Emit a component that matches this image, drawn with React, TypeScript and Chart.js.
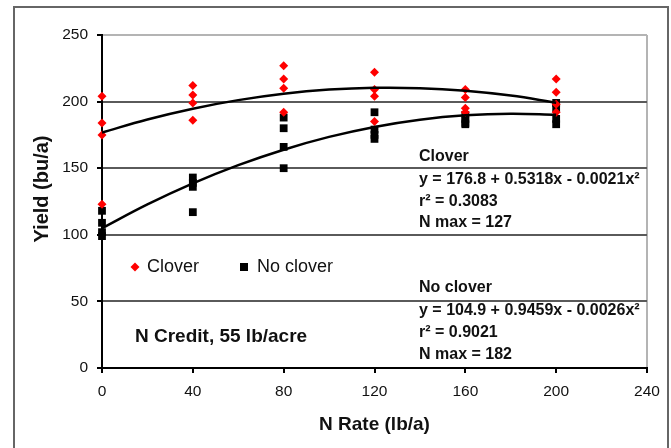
import React, { useEffect, useRef } from 'react';
import { Chart, registerables } from 'chart.js';

Chart.register(...registerables);

// ---- data ----
const nRates = [0, 40, 80, 120, 160, 200];
const cloverRep1 = [204, 212, 227, 222, 209, 217];
const cloverRep2 = [184, 205, 217, 209, 203, 207];
const cloverRep3 = [175, 199, 210, 204, 195, 198];
const cloverRep4 = [123, 186, 192, 185, 192, 192];
const noCloverRep1 = [118, 143, 188, 192, 190, 199];
const noCloverRep2 = [109, 139, 180, 179, 187, 195];
const noCloverRep3 = [102, 136, 166, 175, 184, 187];
const noCloverRep4 = [99, 117, 150, 172, 183, 183];

const trendRates = [0, 20, 40, 60, 80, 100, 120, 140, 160, 180, 200];
const cloverTrend = [176.8, 186.6, 194.7, 201.1, 205.9, 209.0, 210.4, 210.1, 208.1, 204.5, 199.2];
const noCloverTrend = [104.9, 122.8, 138.6, 152.3, 163.9, 173.5, 181.0, 186.4, 189.7, 190.9, 190.1];

const xTicks = [0, 40, 80, 120, 160, 200, 240];
const yTicks = [0, 50, 100, 150, 200, 250];

const seriesNames = ['Clover', 'No clover'];
const cloverNotes = ['Clover', 'y = 176.8 + 0.5318x - 0.0021x²', 'r² = 0.3083', 'N max = 127'];
const noCloverNotes = ['No clover', 'y = 104.9 + 0.9459x - 0.0026x²', 'r² = 0.9021', 'N max = 182'];
const creditNote = 'N Credit, 55 lb/acre';
const xTitle = 'N Rate (lb/a)';
const yTitle = 'Yield (bu/a)';

const FONT = "'Liberation Sans', Arial, sans-serif";

function points(xs: number[], ys: number[]) {
  return xs.map((x, i) => ({ x, y: ys[i] }));
}

const textPlugin = {
  id: 'textPlugin',
  afterDraw(chart: any) {
    const ctx = chart.ctx as CanvasRenderingContext2D;
    const { left, right } = chart.chartArea;
    ctx.save();
    ctx.fillStyle = '#111';
    // axis titles
    ctx.font = `bold 19px ${FONT}`;
    ctx.textAlign = 'center';
    ctx.textBaseline = 'middle';
    ctx.fillText(xTitle, (left + right) / 2, 425);
    ctx.save();
    ctx.translate(42, 189);
    ctx.rotate(-Math.PI / 2);
    ctx.font = `bold 20px ${FONT}`;
    ctx.fillText(yTitle, 0, 0);
    ctx.restore();

    // legend
    ctx.textAlign = 'left';
    ctx.font = `18px ${FONT}`;
    ctx.fillStyle = '#ff0000';
    ctx.beginPath();
    ctx.moveTo(135, 262.5);
    ctx.lineTo(139.5, 267);
    ctx.lineTo(135, 271.5);
    ctx.lineTo(130.5, 267);
    ctx.closePath();
    ctx.fill();
    ctx.fillStyle = '#111';
    ctx.fillText(seriesNames[0], 147, 267);
    ctx.fillStyle = '#000';
    ctx.fillRect(240, 263, 8, 8);
    ctx.fillStyle = '#111';
    ctx.fillText(seriesNames[1], 257, 267);

    // credit note
    ctx.font = `bold 19px ${FONT}`;
    ctx.fillText(creditNote, 135, 337);

    // equations
    ctx.font = `bold 16px ${FONT}`;
    const ys1 = [157, 180, 202, 223];
    const ys2 = [288, 311, 333, 355];
    cloverNotes.forEach((t, i) => ctx.fillText(t, 419, ys1[i]));
    noCloverNotes.forEach((t, i) => ctx.fillText(t, 419, ys2[i]));
    ctx.restore();
  },
};

export default function App() {
  const ref = useRef<HTMLCanvasElement | null>(null);
  useEffect(() => {
    if (!ref.current) return;
    const cloverPts = [cloverRep1, cloverRep2, cloverRep3, cloverRep4].flatMap((r) => points(nRates, r));
    const noCloverPts = [noCloverRep1, noCloverRep2, noCloverRep3, noCloverRep4].flatMap((r) => points(nRates, r));
    const chart = new Chart(ref.current, {
      type: 'scatter',
      data: {
        datasets: [
          {
            label: 'Clover trend',
            data: points(trendRates, cloverTrend),
            showLine: true,
            borderColor: '#000',
            borderWidth: 2.5,
            pointRadius: 0,
            tension: 0.4,
            order: 0,
          } as any,
          {
            label: 'No clover trend',
            data: points(trendRates, noCloverTrend),
            showLine: true,
            borderColor: '#000',
            borderWidth: 2.5,
            pointRadius: 0,
            tension: 0.4,
            order: 0,
          },
          {
            label: seriesNames[0],
            data: cloverPts,
            pointStyle: 'rectRot',
            pointRadius: 4.5,
            backgroundColor: '#ff0000',
            borderColor: '#ff0000',
            borderWidth: 0,
            clip: false,
            order: 1,
          },
          {
            label: seriesNames[1],
            data: noCloverPts,
            pointStyle: 'rect',
            pointRadius: 5.5,
            backgroundColor: '#000',
            borderColor: '#000',
            borderWidth: 0,
            clip: false,
            order: 1,
          },
        ],
      },
      options: {
        responsive: false,
        animation: false,
        devicePixelRatio: 1,
        layout: { padding: { top: 35, right: 24, left: 0, bottom: 0 } },
        plugins: { legend: { display: false }, tooltip: { enabled: false } },
        scales: {
          x: {
            type: 'linear',
            min: 0,
            max: 240,
            afterBuildTicks: (s: any) => {
              s.ticks = xTicks.map((v) => ({ value: v }));
            },
            afterFit: (s: any) => {
              s.height = 80;
            },
            ticks: { color: '#111', font: { family: FONT, size: 15.5 }, padding: 9, maxRotation: 0 },
            grid: {
              color: (c: any) => (c.tick && c.tick.value === 240 ? '#b4b4b4' : 'rgba(0,0,0,0)'),
              lineWidth: 2,
              tickColor: '#000',
              tickLength: 5,
            },
            border: { display: true, color: '#000', width: 2 },
          },
          y: {
            type: 'linear',
            min: 0,
            max: 250,
            afterBuildTicks: (s: any) => {
              s.ticks = yTicks.map((v) => ({ value: v }));
            },
            afterFit: (s: any) => {
              s.width = 102;
            },
            ticks: { color: '#111', font: { family: FONT, size: 15.5 }, padding: 9 },
            grid: {
              color: (c: any) =>
                c.tick && c.tick.value === 250 ? '#b4b4b4' : c.tick && c.tick.value === 0 ? 'rgba(0,0,0,0)' : '#5a5a5a',
              lineWidth: 2,
              tickColor: '#000',
              tickLength: 5,
            },
            border: { display: true, color: '#000', width: 2 },
          },
        },
      },
      plugins: [textPlugin],
    });
    return () => chart.destroy();
  }, []);

  return (
    <div style={{ position: 'fixed', left: 0, top: 0, width: 671, height: 448, overflow: 'hidden', background: '#fff' }}>
      <div
        style={{
          position: 'absolute',
          left: 13,
          top: 6,
          width: 652,
          height: 500,
          border: '2px solid #666',
        }}
      />
      <canvas ref={ref} width={671} height={448} style={{ position: 'absolute', left: 0, top: 0, width: 671, height: 448 }} />
    </div>
  );
}
